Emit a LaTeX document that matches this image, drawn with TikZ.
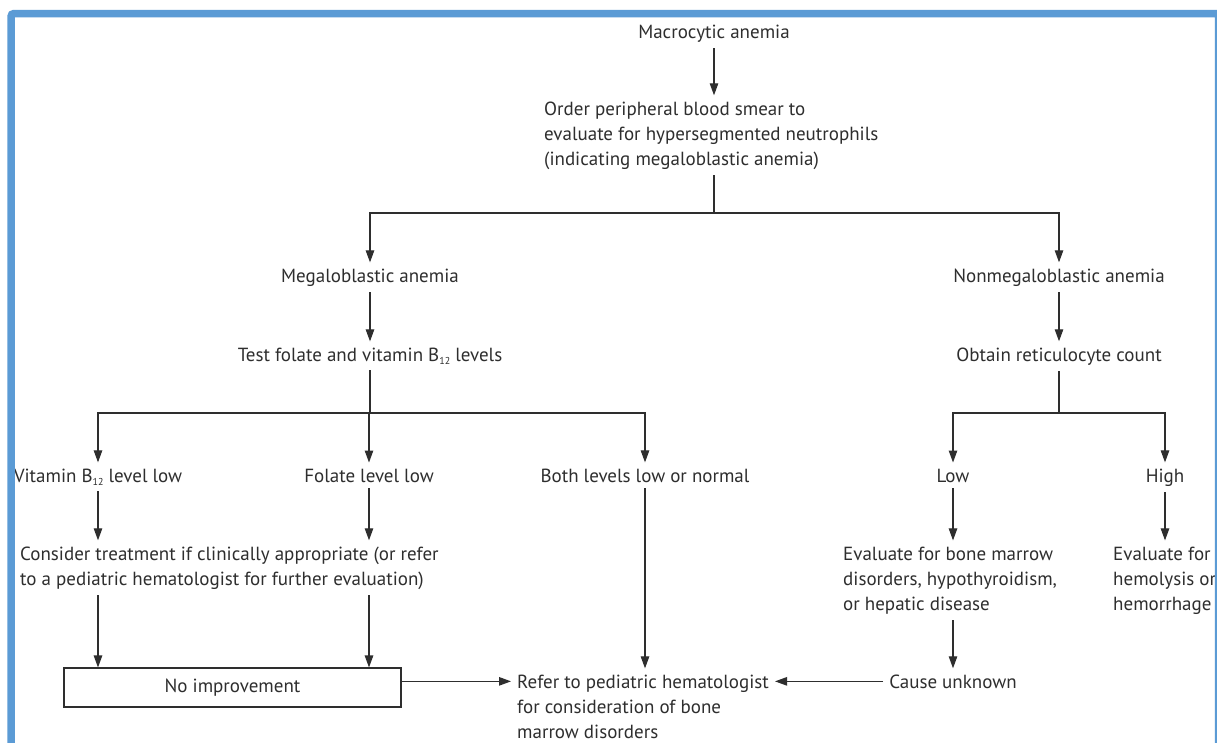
\documentclass[tikz,border=0pt]{standalone}
\usepackage{fontspec}
\setmainfont{PT Sans}
\usetikzlibrary{arrows.meta}
\definecolor{framebl}{HTML}{5B9BD5}
\definecolor{ink}{HTML}{2E2E2E}
\newcommand{\bsub}{\raisebox{-3pt}{\fontsize{10}{10}\selectfont 12}}

\begin{document}
\begin{tikzpicture}[x=1pt, y=-1pt,
  txt/.style={inner sep=6pt, text=ink, font=\fontsize{19}{25}\selectfont},
  arr/.style={-{Triangle[length=12pt, width=8.5pt]}, ink, line width=1.1pt},
  ln/.style={-, ink, line width=1.1pt}]

  \useasboundingbox (0,0) rectangle (1217,742);
  \fill[white] (0,0) rectangle (1217,742);

  % top of the chart
  \node[txt, anchor=base] (macro) at (714, 38) {Macrocytic anemia};
  \node[txt, anchor=base west, align=left] (smear) at (538, 165) {Order peripheral blood smear to\\evaluate for hypersegmented neutrophils\\(indicating megaloblastic anemia)};
  \coordinate (split) at (714, 213);

  % megaloblastic branch
  \node[txt, anchor=base] (mega) at (370, 282) {Megaloblastic anemia};
  \node[txt, anchor=base] (test) at (370, 361) {Test folate and vitamin B\bsub{} levels};
  \coordinate (splitmega) at (370, 413);

  \node[txt, anchor=base] (vitb) at (98, 482) {Vitamin B\bsub{} level low};
  \node[txt, anchor=base] (folate) at (369, 482) {Folate level low};
  \node[txt, anchor=base] (both) at (645, 482) {Both levels low or normal};

  \node[txt, anchor=base west, align=left] (consider) at (14, 585) {Consider treatment if clinically appropriate (or refer\\to a pediatric hematologist for further evaluation)};
  \node[txt, draw=ink, line width=1.1pt, minimum width=337pt, minimum height=39pt] (noimp) at (232.5, 687.5) {No improvement};

  \node[txt, anchor=base west, align=left] (refer) at (511, 738) {Refer to pediatric hematologist\\for consideration of bone\\marrow disorders};

  % nonmegaloblastic branch
  \node[txt, anchor=base] (nonmega) at (1059, 282) {Nonmegaloblastic anemia};
  \node[txt, anchor=base] (obtain) at (1059, 361) {Obtain reticulocyte count};
  \coordinate (splitnon) at (1059, 413);

  \node[txt, anchor=base] (low) at (953, 482) {Low};
  \node[txt, anchor=base] (high) at (1165, 482) {High};

  \node[txt, anchor=base west, align=left] (evbone) at (837, 610) {Evaluate for bone marrow\\disorders, hypothyroidism,\\or hepatic disease};
  \node[txt, anchor=base west, align=left] (evhem) at (1107, 610) {Evaluate for\\hemolysis or\\hemorrhage};
  \node[txt, anchor=base] (cause) at (953, 688) {Cause unknown};

  % connectors
  \draw[arr] (macro) -- (macro |- smear.north);
  \draw[ln] (smear.south -| macro) -- (split);
  \draw[ln] (mega |- split) -- (nonmega |- split);
  \draw[arr] (split) -| (mega);
  \draw[arr] (split) -| (nonmega);

  \draw[arr] (mega) -- (test);
  \draw[ln] (test) -- (splitmega);
  \draw[ln] (vitb |- splitmega) -- (both |- splitmega);
  \draw[arr] (splitmega) -| (vitb);
  \draw[arr] (splitmega) -| (folate);
  \draw[arr] (splitmega) -| (both);

  \draw[arr] (vitb) -- (vitb |- consider.north);
  \draw[arr] (folate) -- (folate |- consider.north);
  \draw[arr] (consider.south -| vitb) -- (noimp.north -| vitb);
  \draw[arr] (consider.south -| folate) -- (noimp.north -| folate);
  \draw[arr] (both) -- (both |- refer.north);
  \draw[arr] (noimp.east |- cause) -- (cause -| refer.west);

  \draw[arr] (nonmega) -- (obtain);
  \draw[ln] (obtain) -- (splitnon);
  \draw[ln] (low |- splitnon) -- (high |- splitnon);
  \draw[arr] (splitnon) -| (low);
  \draw[arr] (splitnon) -| (high);
  \draw[arr] (low) -- (low |- evbone.north);
  \draw[arr] (high) -- (high |- evhem.north);
  \draw[arr] (evbone.south -| low) -- (cause);
  \draw[arr] (cause) -- (cause -| refer.east);

  % frame
  \draw[framebl, line width=7.5pt, rounded corners=3pt] (11, 745) -- (11, 13.5) -- (1218.5, 13.5) -- (1218.5, 745);

\end{tikzpicture}
\end{document}
